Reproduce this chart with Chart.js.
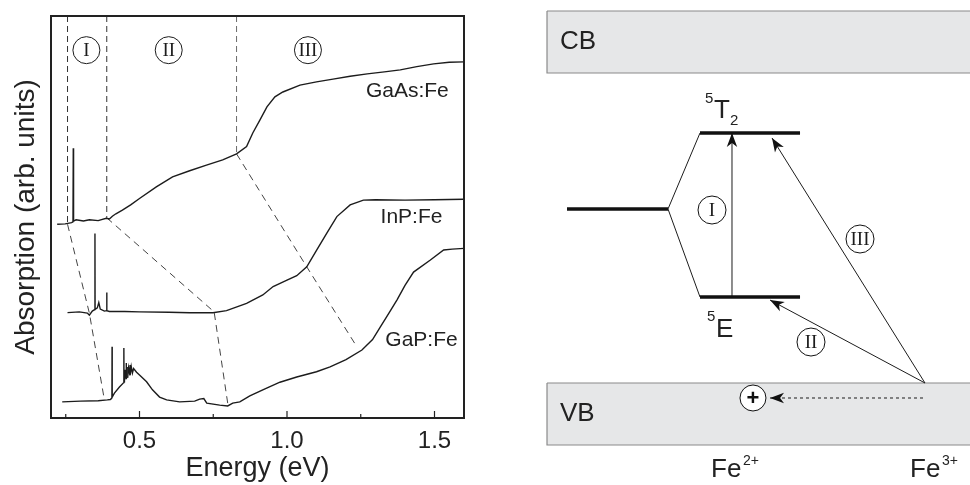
<!DOCTYPE html>
<html><head><meta charset="utf-8">
<script src="https://cdn.jsdelivr.net/npm/chart.js@4"></script>
<style>
html,body{margin:0;padding:0;background:#fff;}
#wrap{position:relative;width:970px;height:485px;overflow:hidden;}
#c1{position:absolute;left:0;top:0;width:480px;height:485px;}
#c2{position:absolute;left:540px;top:0;width:430px;height:485px;}
</style></head><body>
<div id="wrap">
<canvas id="c1" width="480" height="485"></canvas>
<canvas id="c2" width="430" height="485"></canvas>
</div>
<script>
// ---------------- DATA (left panel) ----------------
const gaasE = [0.221,0.248,0.270,0.2745,0.2755,0.2765,0.285,0.310,0.330,0.360,0.387,0.398,0.408,0.420,0.442,0.470,0.500,0.557,0.612,0.670,0.727,0.782,0.829,0.863,0.884,0.908,0.932,0.959,0.986,1.044,1.100,1.156,1.214,1.272,1.330,1.384,1.440,1.497,1.550,1.600];
const gaasA = [48.2,48.3,48.6,48.8,67.1,49.0,49.3,49.0,49.3,49.1,49.7,49.5,50.2,50.8,51.7,53.0,54.6,57.5,60.0,61.5,62.9,64.2,65.7,67.5,70.9,74.1,77.4,79.9,81.1,82.8,83.6,84.3,85.0,85.6,86.1,86.6,87.4,88.1,88.5,88.6];

const inpE = [0.256,0.296,0.323,0.330,0.340,0.3485,0.349,0.3495,0.357,0.362,0.367,0.381,0.3885,0.389,0.3895,0.398,0.450,0.500,0.600,0.670,0.749,0.795,0.863,0.918,0.953,1.000,1.033,1.067,1.101,1.135,1.169,1.214,1.259,1.300,1.400,1.500,1.600];
const inpA = [26.2,26.4,26.1,25.6,26.6,27.0,45.9,27.0,27.4,28.7,27.1,26.6,26.7,31.2,26.7,26.5,26.5,26.4,26.3,26.2,26.2,26.7,28.5,30.6,32.7,34.3,35.4,37.6,41.8,46.0,50.1,53.0,54.2,54.3,54.2,54.3,54.4];

const gapE = [0.238,0.300,0.360,0.391,0.401,0.4065,0.407,0.4075,0.415,0.432,0.4465,0.447,0.4475,0.449,0.452,0.4545,0.455,0.4555,0.4595,0.460,0.4605,0.463,0.4675,0.468,0.4685,0.472,0.476,0.480,0.490,0.500,0.524,0.544,0.568,0.592,0.636,0.687,0.704,0.718,0.728,0.772,0.799,0.816,0.840,0.874,0.918,0.976,1.033,1.100,1.146,1.200,1.254,1.290,1.316,1.345,1.373,1.400,1.429,1.486,1.531,1.560,1.600];
const gapA = [4.0,4.2,4.3,4.5,4.6,5.0,17.7,5.2,6.2,7.7,8.8,17.4,9.0,9.5,12.0,9.8,13.7,9.9,10.2,12.7,10.3,12.5,10.6,13.2,10.7,12.8,11.2,12.3,11.4,10.7,9.0,7.0,5.2,4.5,4.0,4.2,4.7,4.85,3.7,3.2,3.0,3.7,4.0,5.5,7.0,8.9,10.2,11.5,12.7,14.5,16.9,19.5,22.6,26.0,29.4,33.0,36.3,39.3,41.8,42.0,42.2];

// dashed guide lines (region boundaries and their shifts)
const vLineE   = [0.256, 0.389, 0.829];
const vLineTop = [100, 100, 100];
const vLineBot = [48.2, 49.8, 65.7];
const diagAE = [0.256,0.330,0.381], diagAA = [48.2,26.1,4.5];
const diagBE = [0.389,0.753,0.800], diagBA = [49.8,26.4,3.2];
const diagCE = [0.829,1.067,1.237], diagCA = [65.7,37.6,17.7];

const regionLabels = ['I','II','III'];
const regionLabelE = [0.320, 0.599, 1.071];
const regionLabelA = [91.5, 91.5, 91.5];

const sampleLabels = ['GaAs:Fe','InP:Fe','GaP:Fe'];
const sampleLabelE = [1.408, 1.422, 1.456];
const sampleLabelA = [81.3, 50.0, 19.4];

const xTickValues = [0.25,0.5,0.75,1.0,1.25,1.5];
const xTickLabels = {0.5:'0.5', 1:'1.0', 1.5:'1.5'};

// ---------------- DATA (right panel: level diagram) ----------------
const bandNames = ['CB','VB'];
const bandBottom = [8.495, 0.825];
const bandTop    = [9.773, 2.103];
const bandLeft = 0.163, bandRight = 10.5;
const bandLabelX = [0.465, 0.465];
const bandLabelY = [8.990, 1.320];

const levelX1 = [0.628, 3.721, 3.721];
const levelX2 = [2.977, 6.047, 6.047];
const levelY  = [5.691, 7.258, 3.876];

const connFrom = [[2.977,5.691],[2.977,5.691]];
const connTo   = [[3.721,7.258],[3.721,3.876]];

const arrowFrom = [[4.465,3.876],[8.953,2.103],[8.953,2.103]];
const arrowTo   = [[4.465,7.258],[5.349,3.814],[5.395,7.155]];
const arrowLabels = ['I','II','III'];
const arrowLabelX = [4.000, 6.302, 7.442];
const arrowLabelY = [5.670, 2.948, 5.072];

const holeFrom = [8.907,1.794], holeTo = [5.349,1.794];
const holePos = [4.953,1.794];

const ionLabels = ['Fe','Fe'], ionCharge = ['2+','3+'];
const ionX = [3.977, 8.605], ionY = 0.165, ionChargeDX = 0.744, ionChargeY = 0.412;

// ---------------- helpers ----------------
const FONT = '"Liberation Sans", Arial, Helvetica, sans-serif';
const SERIF = '"Liberation Serif", "Times New Roman", serif';
const INK = '#1c1c1c';
const pts = (xs, ys) => xs.map((x, i) => ({x, y: ys[i]}));

function lineDS(data, opt) {
  return Object.assign({data, showLine: true, pointRadius: 0, pointHoverRadius: 0,
    borderColor: INK, borderWidth: 1.4, fill: false, tension: 0, order: 0}, opt || {});
}

// ---------------- LEFT CHART ----------------
const leftDatasets = [
  lineDS(pts(gaasE, gaasA)),
  lineDS(pts(inpE, inpA)),
  lineDS(pts(gapE, gapA)),
];
vLineE.forEach((e, i) => leftDatasets.push(lineDS(pts([e, e], [vLineTop[i], vLineBot[i]]),
  {borderWidth: 1, borderDash: [6, 4], borderColor: i === 2 ? '#6a6a6a' : '#333', order: 1})));
[[diagAE, diagAA], [diagBE, diagBA], [diagCE, diagCA]].forEach(([e, a]) =>
  leftDatasets.push(lineDS(pts(e, a), {borderWidth: 1, borderDash: [7, 5], borderColor: '#444', order: 1})));

const leftPlugin = {
  id: 'leftDecor',
  afterDatasetsDraw(chart) {
    const {ctx, chartArea: ca, scales: {x, y}} = chart;
    ctx.save();
    // frame
    ctx.strokeStyle = '#222'; ctx.lineWidth = 2;
    ctx.strokeRect(ca.left, ca.top, ca.right - ca.left, ca.bottom - ca.top);
    // x ticks (inward)
    ctx.lineWidth = 1.2;
    xTickValues.forEach(v => {
      const px = x.getPixelForValue(v);
      const len = xTickLabels[v] ? 7 : 4;
      ctx.beginPath(); ctx.moveTo(px, ca.bottom); ctx.lineTo(px, ca.bottom - len); ctx.stroke();
    });
    // circled region labels
    ctx.fillStyle = INK; ctx.strokeStyle = INK; ctx.lineWidth = 1;
    ctx.textAlign = 'center'; ctx.textBaseline = 'middle';
    ctx.font = '19px ' + SERIF;
    regionLabels.forEach((t, i) => {
      const px = x.getPixelForValue(regionLabelE[i]), py = y.getPixelForValue(regionLabelA[i]);
      ctx.beginPath(); ctx.arc(px, py, 13.5, 0, Math.PI * 2); ctx.stroke();
      ctx.fillText(t, px, py + 1);
    });
    // sample labels
    ctx.font = '21px ' + FONT;
    ctx.fillStyle = '#222';
    sampleLabels.forEach((t, i) => {
      ctx.fillText(t, x.getPixelForValue(sampleLabelE[i]), y.getPixelForValue(sampleLabelA[i]));
    });
    ctx.restore();
  }
};

new Chart(document.getElementById('c1'), {
  type: 'scatter',
  data: {datasets: leftDatasets},
  options: {
    responsive: false, animation: false, events: [],
    layout: {padding: {left: 0, top: 16, right: 16, bottom: 0}},
    plugins: {legend: {display: false}, tooltip: {enabled: false}},
    scales: {
      x: {
        type: 'linear', min: 0.2, max: 1.6,
        afterBuildTicks: s => { s.ticks = xTickValues.map(v => ({value: v})); },
        afterFit: s => { s.height = 67; },
        grid: {display: false, drawTicks: false},
        border: {display: false},
        ticks: {padding: 9, color: '#222', font: {family: FONT, size: 24},
          autoSkip: false, maxRotation: 0,
          callback: v => xTickLabels[v] || ''},
        title: {display: true, text: 'Energy (eV)', color: '#222',
          font: {family: FONT, size: 27}, padding: {top: 0, bottom: 0}}
      },
      y: {
        type: 'linear', min: 0, max: 100,
        afterFit: s => { s.width = 51; },
        grid: {display: false, drawTicks: false},
        border: {display: false},
        ticks: {display: false},
        title: {display: true, text: 'Absorption (arb. units)', color: '#222',
          font: {family: FONT, size: 28}, padding: {top: 9, bottom: 0}}
      }
    }
  },
  plugins: [leftPlugin]
});

// ---------------- RIGHT CHART ----------------
const rightDatasets = [];
levelY.forEach((ly, i) => rightDatasets.push(lineDS(pts([levelX1[i], levelX2[i]], [ly, ly]),
  {borderWidth: 3.5, borderColor: '#111', borderCapStyle: 'butt'})));
connFrom.forEach((f, i) => rightDatasets.push(lineDS(
  pts([f[0], connTo[i][0]], [f[1], connTo[i][1]]), {borderWidth: 1})));
arrowFrom.forEach((f, i) => rightDatasets.push(lineDS(
  pts([f[0], arrowTo[i][0]], [f[1], arrowTo[i][1]]), {borderWidth: 1})));
rightDatasets.push(lineDS(pts([holeFrom[0], holeTo[0]], [holeFrom[1], holeTo[1]]),
  {borderWidth: 1, borderDash: [3, 3]}));
// bands drawn underneath everything (higher order = drawn first)
bandNames.forEach((n, i) => rightDatasets.push(lineDS(
  pts([bandLeft, bandRight, bandRight, bandLeft, bandLeft],
      [bandTop[i], bandTop[i], bandBottom[i], bandBottom[i], bandTop[i]]),
  {fill: 'shape', backgroundColor: '#e6e7e8', borderColor: '#8a8a8a', borderWidth: 1.2, order: 5})));

function arrowHead(ctx, x0, y0, x1, y1, len, w) {
  const a = Math.atan2(y1 - y0, x1 - x0), dx = Math.cos(a), dy = Math.sin(a);
  const bx = x1 - len * dx, by = y1 - len * dy;
  const nx = x1 - 0.72 * len * dx, ny = y1 - 0.72 * len * dy;
  ctx.beginPath();
  ctx.moveTo(x1, y1);
  ctx.lineTo(bx - w * dy, by + w * dx);
  ctx.lineTo(nx, ny);
  ctx.lineTo(bx + w * dy, by - w * dx);
  ctx.closePath(); ctx.fill();
}

const rightPlugin = {
  id: 'rightDecor',
  afterDatasetsDraw(chart) {
    const {ctx, scales: {x, y}} = chart;
    const X = v => x.getPixelForValue(v), Y = v => y.getPixelForValue(v);
    ctx.save();
    ctx.fillStyle = '#111'; ctx.strokeStyle = '#111';
    // arrowheads
    arrowFrom.forEach((f, i) => arrowHead(ctx, X(f[0]), Y(f[1]), X(arrowTo[i][0]), Y(arrowTo[i][1]), 14, 5.2));
    arrowHead(ctx, X(holeFrom[0]), Y(holeFrom[1]), X(holeTo[0]), Y(holeTo[1]), 14, 5.2);
    // circled arrow labels
    ctx.lineWidth = 1;
    ctx.textAlign = 'center'; ctx.textBaseline = 'middle';
    ctx.font = '19px ' + SERIF;
    arrowLabels.forEach((t, i) => {
      const px = X(arrowLabelX[i]), py = Y(arrowLabelY[i]);
      ctx.beginPath(); ctx.arc(px, py, 14, 0, Math.PI * 2); ctx.stroke();
      ctx.fillStyle = '#1c1c1c'; ctx.fillText(t, px, py + 1);
    });
    // hole
    {
      const px = X(holePos[0]), py = Y(holePos[1]);
      ctx.fillStyle = '#fff';
      ctx.beginPath(); ctx.arc(px, py, 13, 0, Math.PI * 2); ctx.fill(); ctx.stroke();
      ctx.fillStyle = '#111'; ctx.font = 'bold 22px ' + FONT;
      ctx.fillText('+', px, py + 0.5);
    }
    // band labels
    ctx.textAlign = 'left'; ctx.textBaseline = 'alphabetic';
    ctx.fillStyle = '#222';
    ctx.font = '26px ' + FONT;
    bandNames.forEach((n, i) => ctx.fillText(n, X(bandLabelX[i]), Y(bandLabelY[i])));
    // term symbols
    ctx.font = '26px ' + FONT; ctx.fillText('T', X(4.047), Y(7.567));
    ctx.font = '15px ' + FONT; ctx.fillText('5', X(3.837), Y(7.876));
    ctx.fillText('2', X(4.419), Y(7.423));
    ctx.font = '26px ' + FONT; ctx.fillText('E', X(4.093), Y(3.052));
    ctx.font = '15px ' + FONT; ctx.fillText('5', X(3.884), Y(3.381));
    // ions
    ionLabels.forEach((t, i) => {
      ctx.font = '26px ' + FONT; ctx.fillText(t, X(ionX[i]), Y(ionY));
      ctx.font = '14px ' + FONT; ctx.fillText(ionCharge[i], X(ionX[i] + ionChargeDX), Y(ionChargeY));
    });
    ctx.restore();
  }
};

new Chart(document.getElementById('c2'), {
  type: 'scatter',
  data: {datasets: rightDatasets},
  options: {
    responsive: false, animation: false, events: [],
    layout: {padding: 0},
    plugins: {legend: {display: false}, tooltip: {enabled: false}},
    scales: {
      x: {type: 'linear', min: 0, max: 10, display: false},
      y: {type: 'linear', min: 0, max: 10, display: false}
    }
  },
  plugins: [rightPlugin]
});
</script>
</body></html>
